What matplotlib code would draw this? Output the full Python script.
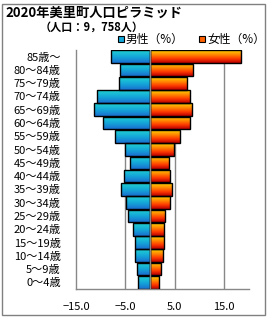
import matplotlib
matplotlib.use("Agg")
import matplotlib.pyplot as plt
import numpy as np
from matplotlib.colors import LinearSegmentedColormap
from matplotlib.patches import Rectangle

plt.rcParams['font.family'] = ['Noto Sans CJK JP', 'DejaVu Sans']

# データ（％）
age_labels = ['0～4歳', '5～9歳', '10～14歳', '15～19歳', '20～24歳', '25～29歳',
              '30～34歳', '35～39歳', '40～44歳', '45～49歳', '50～54歳', '55～59歳',
              '60～64歳', '65～69歳', '70～74歳', '75～79歳', '80～84歳', '85歳～']
male = [2.4, 2.7, 3.1, 3.1, 3.5, 4.4, 4.9, 5.9, 5.2, 4.0, 5.0, 7.1,
        9.5, 11.3, 10.8, 6.4, 6.0, 8.0]
female = [1.7, 2.1, 2.5, 2.9, 2.9, 3.1, 4.1, 4.4, 4.1, 3.9, 4.8, 6.0,
          8.0, 8.4, 8.0, 7.5, 8.6, 18.4]
x_ticks = [-15.0, -5.0, 5.0, 15.0]

# グラデーション
cm_male = LinearSegmentedColormap.from_list('m', ['#1a6fd0', '#14a8d8', '#22d2d2'])
cm_female = LinearSegmentedColormap.from_list('f', ['#b80000', '#ff3a00', '#ff8c00', '#ffd400'])
grad = np.linspace(0, 1, 64).reshape(-1, 1)

fig = plt.figure(figsize=(2.7, 3.2), dpi=100)
ax = fig.add_axes([76 / 270, 31 / 320, 173 / 270, 239 / 320])

y = np.arange(len(age_labels))
h = 0.95
for i in range(len(age_labels)):
    for x0, w, cm in [(-male[i], male[i], cm_male), (0, female[i], cm_female)]:
        rect = Rectangle((x0, y[i] - h / 2), w, h, facecolor='none',
                         edgecolor='black', linewidth=1.0, zorder=3)
        ax.add_patch(rect)
        im = ax.imshow(grad, cmap=cm, aspect='auto', origin='lower',
                       extent=[x0, x0 + w, y[i] - h / 2, y[i] + h / 2], zorder=2)
        im.set_clip_path(rect)

ax.set_xlim(-15, 20)
ax.set_ylim(-0.5, len(age_labels) - 0.5)
ax.set_yticks(y)
ax.set_yticklabels(age_labels, fontsize=8)
ax.set_xticks(x_ticks)
ax.set_xticklabels([f'{v:.1f}'.replace('-', '−') for v in x_ticks], fontsize=8)
ax.tick_params(axis='x', length=0, pad=9)
ax.tick_params(axis='y', length=0, pad=11)
for v in [-5, 5, 15]:
    ax.axvline(v, color='#888888', linewidth=1.0, zorder=1)
ax.axvline(0, color='#888888', linewidth=1.0, zorder=4)
for s in ['top', 'right']:
    ax.spines[s].set_visible(False)
for s in ['left', 'bottom']:
    ax.spines[s].set_color('#888888')
    ax.spines[s].set_linewidth(1.0)

# 外枠
fig.patches.append(Rectangle((2 / 270, 5 / 320), 263 / 270, 311 / 320,
                             transform=fig.transFigure, fill=False,
                             edgecolor='#808080', linewidth=1.0))

fig.text(5 / 270, 1 - 13 / 320, '2020年美里町人口ピラミッド', fontsize=9.5,
         fontweight='bold', va='center', ha='left')
fig.text(92 / 270, 1 - 27 / 320, '（人口：9，758人）', fontsize=8,
         fontweight='bold', va='center', ha='center')

for lx, c, lab in [(118, cm_male, '男性（%）'), (199, cm_female, '女性（%）')]:
    fig.patches.append(Rectangle((lx / 270, 1 - 42 / 320), 6 / 270, 6 / 320,
                                 transform=fig.transFigure, facecolor=c(0.5),
                                 edgecolor='black', linewidth=0.8))
    fig.text((lx + 8) / 270, 1 - 39 / 320, lab, fontsize=8.5, va='center', ha='left')

fig.savefig('out.png', dpi=100)
